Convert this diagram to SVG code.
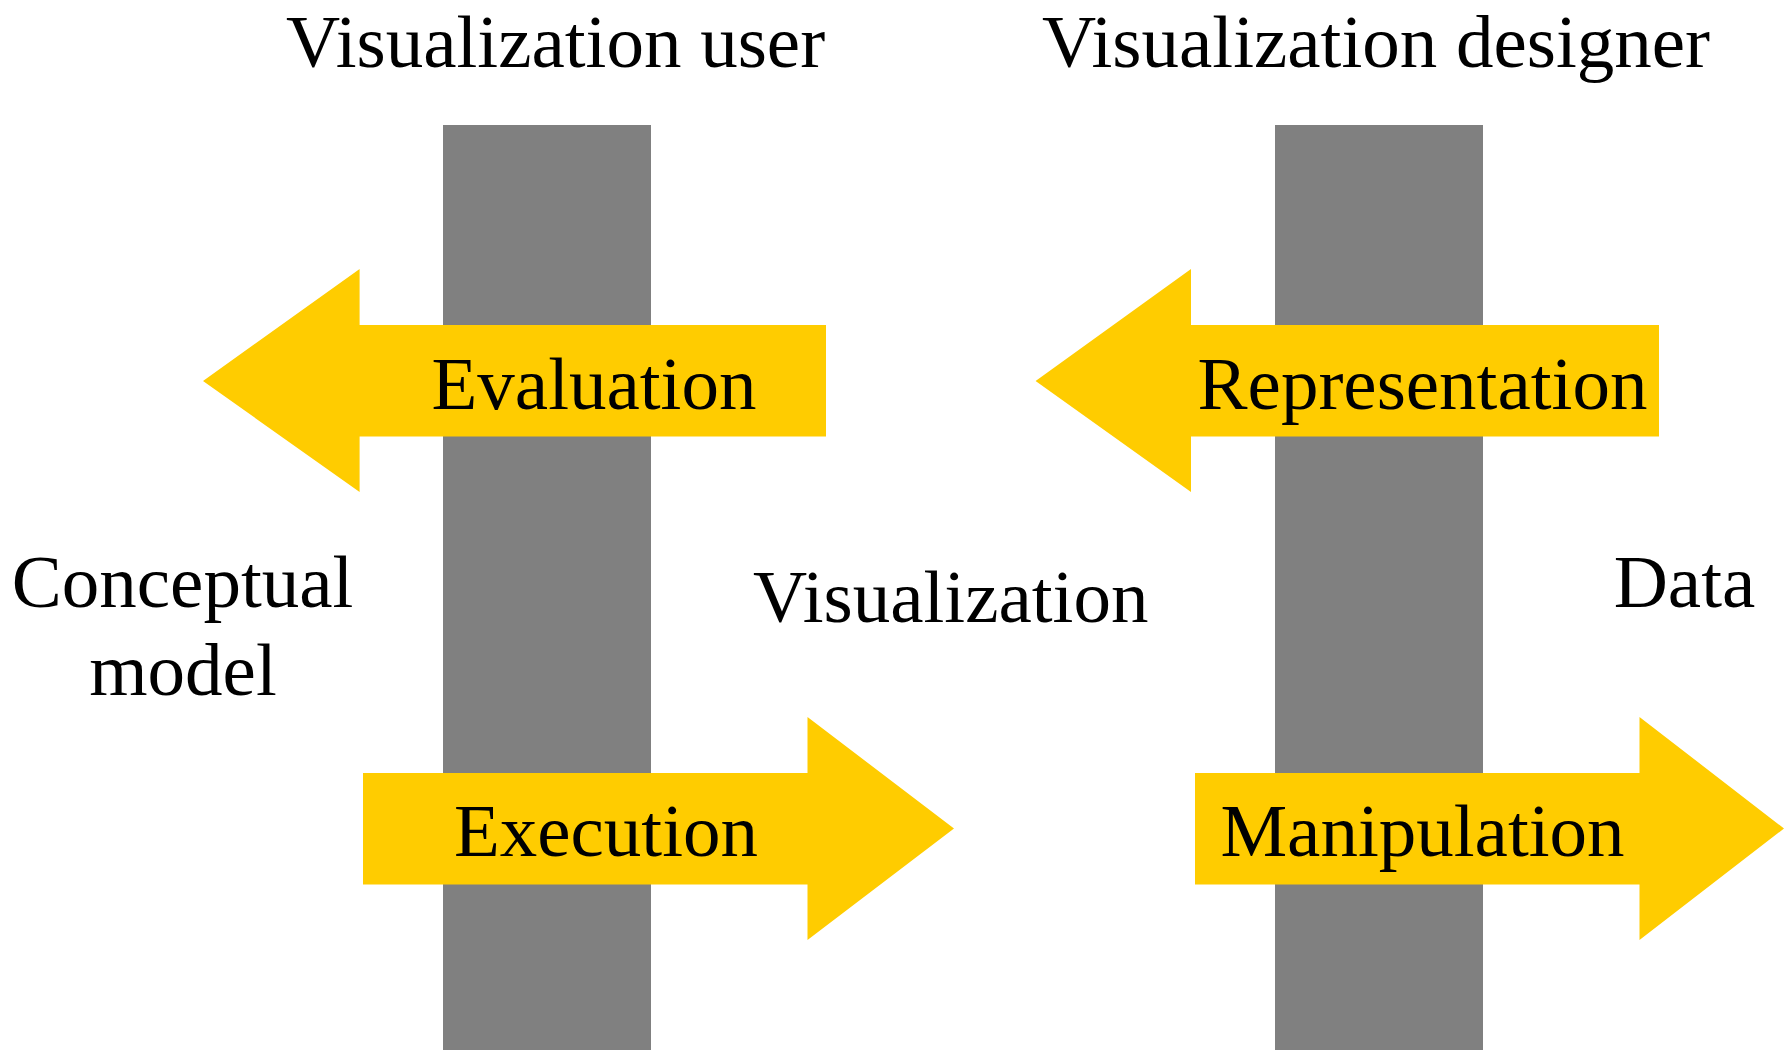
<svg xmlns="http://www.w3.org/2000/svg" width="1784" height="1050" viewBox="0 0 1784 1050">
<style>
.bar{fill:#808080}
.arr{fill:#FFCC00}
text{font-family:"Liberation Serif","Times New Roman",serif;font-size:75px;fill:#000;text-anchor:middle}
</style>
<rect width="1784" height="1050" fill="#fff"/>
<g id="user-bar"><rect class="bar" x="443" y="125" width="208" height="925"/></g>
<g id="designer-bar"><rect class="bar" x="1275" y="125" width="208" height="925"/></g>
<g id="connectors">
<polygon id="evaluation-arrow" class="arr" points="203,381 359.6,269 359.6,325 826,325 826,436.5 359.6,436.5 359.6,492"/>
<polygon id="representation-arrow" class="arr" points="1035.6,381 1191,269 1191,325 1659,325 1659,436.5 1191,436.5 1191,492"/>
<polygon id="execution-arrow" class="arr" points="363,773 807.5,773 807.5,717 954,828.5 807.5,940 807.5,884.5 363,884.5"/>
<polygon id="manipulation-arrow" class="arr" points="1195,773 1639.5,773 1639.5,717 1784,828.5 1639.5,940 1639.5,884.5 1195,884.5"/>
</g>
<g id="labels">
<text x="555.6" y="67">Visualization user</text>
<text x="1376" y="67">Visualization designer</text>
<text x="594" y="409">Evaluation</text>
<text x="1422.5" y="409">Representation</text>
<text x="606" y="856">Execution</text>
<text x="1422.5" y="856">Manipulation</text>
<text x="182.6" y="607">Conceptual</text>
<text x="183" y="695">model</text>
<text x="950.7" y="622">Visualization</text>
<text x="1684.5" y="607">Data</text>
</g>
</svg>
